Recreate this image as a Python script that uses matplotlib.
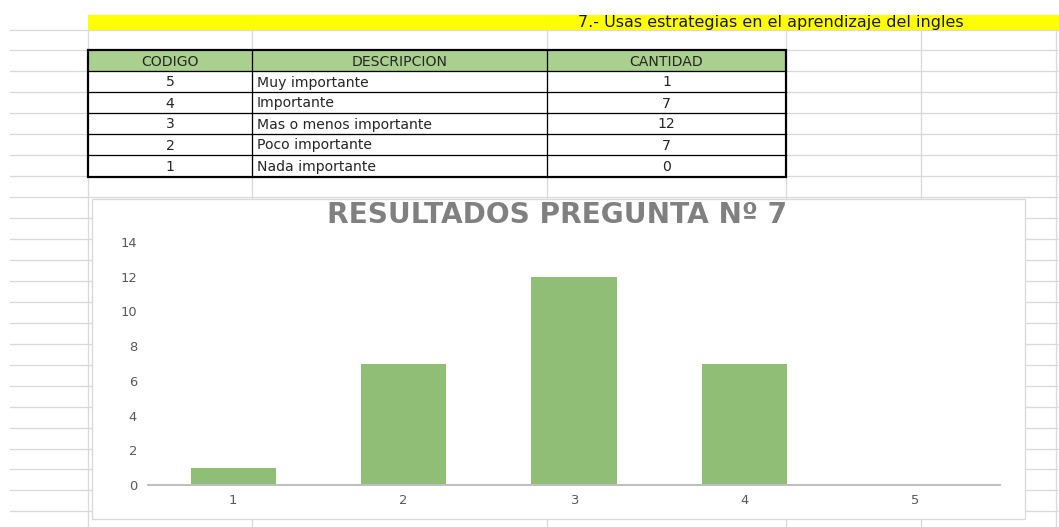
"""Spreadsheet screenshot: question 7 table and bar chart."""

import matplotlib

matplotlib.use("Agg")
import matplotlib.pyplot as plt
import numpy as np
from matplotlib.patches import Rectangle

# Data
header_title = "7.- Usas estrategias en el aprendizaje del ingles"
table_headers = ["CODIGO", "DESCRIPCION", "CANTIDAD"]
codigos = [5, 4, 3, 2, 1]
descripciones = [
    "Muy importante",
    "Importante",
    "Mas o menos importante",
    "Poco importante",
    "Nada importante",
]
cantidades = [1, 7, 12, 7, 0]
chart_categories = ["1", "2", "3", "4", "5"]
chart_title = "RESULTADOS PREGUNTA Nº 7"
y_ticks = [0, 2, 4, 6, 8, 10, 12, 14]

W, H = 1059, 527
DPI = 96  # hatch tile = 96 px, so 48 stripes give an exact 2 px period
PX = 72 / DPI  # points per pixel

GRID = "#d9d9d9"
GREEN_HEAD = "#a9d08e"
BAR_GREEN = "#63a33c"
TEXT_GRAY = "#595959"
TEXT_DARK = "#262626"

plt.rcParams["font.family"] = ["DejaVu Sans"]
plt.rcParams["hatch.linewidth"] = 1.4 * PX

fig = plt.figure(figsize=(W / DPI, H / DPI), dpi=DPI)
fig.patch.set_facecolor("white")

# Background sheet in pixel coordinates
bg = fig.add_axes([0, 0, 1, 1])
bg.set_xlim(0, W)
bg.set_ylim(H, 0)
bg.axis("off")

# Sheet grid
col_x = [88, 252, 547, 786, 921, 1056]
row_y = np.arange(29.5, H, 20.95)
for y in row_y:
    bg.plot([10, W], [y, y], color=GRID, lw=1.3 * PX, zorder=1)
for x in col_x:
    bg.plot([x, x], [30, H], color=GRID, lw=1.3 * PX, zorder=1)

# Yellow title band
bg.add_patch(Rectangle((88, 15), W - 88, 15, facecolor="#ffff00", edgecolor="none", zorder=2))
bg.text(771, 22.5, header_title, ha="center", va="center", fontsize=16 * PX,
        color="#1a1a1a", zorder=3)

# Table
t_left, t_right = col_x[0], col_x[3]
t_rows = [50, 71, 92, 113, 134, 155, 176.5]
bg.add_patch(Rectangle((t_left, t_rows[0]), t_right - t_left, t_rows[1] - t_rows[0],
                       facecolor=GREEN_HEAD, edgecolor="none", zorder=2))
bg.add_patch(Rectangle((t_left, t_rows[1]), t_right - t_left, t_rows[-1] - t_rows[1],
                       facecolor="white", edgecolor="none", zorder=2))
for y in t_rows[1:-1]:
    bg.plot([t_left, t_right], [y, y], color="black", lw=1.3 * PX, zorder=4)
for x in col_x[1:3]:
    bg.plot([x, x], [t_rows[0], t_rows[-1]], color="black", lw=1.3 * PX, zorder=4)
bg.add_patch(Rectangle((t_left, t_rows[0]), t_right - t_left, t_rows[-1] - t_rows[0],
                       facecolor="none", edgecolor="black", lw=2.2 * PX, zorder=5))

cell_size = 14 * PX
centers = [(col_x[i] + col_x[i + 1]) / 2 for i in range(3)]
head_y = (t_rows[0] + t_rows[1]) / 2 + 1
for cx, label in zip(centers, table_headers):
    bg.text(cx, head_y, label, ha="center", va="center", fontsize=cell_size,
            color=TEXT_DARK, zorder=6)
for i, (cod, desc, cant) in enumerate(zip(codigos, descripciones, cantidades)):
    ry = (t_rows[i + 1] + t_rows[i + 2]) / 2 + 1
    bg.text(centers[0], ry, str(cod), ha="center", va="center", fontsize=cell_size,
            color=TEXT_DARK, zorder=6)
    bg.text(col_x[1] + 5, ry, desc, ha="left", va="center", fontsize=cell_size,
            color=TEXT_DARK, zorder=6)
    bg.text(centers[2], ry, str(cant), ha="center", va="center", fontsize=cell_size,
            color=TEXT_DARK, zorder=6)

# Chart frame
bg.add_patch(Rectangle((92, 199), 933, 320, facecolor="white", edgecolor="#d9d9d9",
                       lw=1.3 * PX, zorder=7))
fig.text(557.5 / W, 1 - 215 / H, chart_title, ha="center", va="center",
         fontsize=28 * PX, fontweight="bold", color="#808080")

# Chart plot area
ax = fig.add_axes([148 / W, 1 - 485 / H, 852 / W, 243 / H])
ax.set_facecolor("none")
x = np.arange(len(chart_categories))
ax.bar(x, cantidades, width=0.5, color="white", edgecolor=BAR_GREEN,
       hatch="--------", linewidth=0)
ax.set_xlim(-0.5, len(chart_categories) - 0.5)
ax.set_ylim(0, 14)
ax.set_xticks(x)
ax.set_xticklabels(chart_categories)
ax.set_yticks(y_ticks)
for side in ["top", "right", "left"]:
    ax.spines[side].set_visible(False)
ax.spines["bottom"].set_color("#bfbfbf")
ax.spines["bottom"].set_linewidth(2 * PX)
ax.tick_params(axis="both", length=0, labelsize=13 * PX, labelcolor=TEXT_GRAY)
ax.tick_params(axis="y", pad=11 * PX)
ax.tick_params(axis="x", pad=9 * PX)

fig.savefig("out.png", dpi=DPI)
